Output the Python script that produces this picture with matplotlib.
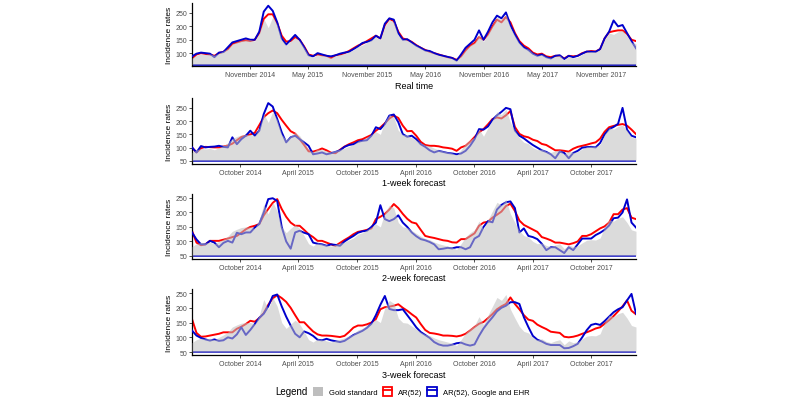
import matplotlib
matplotlib.use('Agg')
import matplotlib.pyplot as plt
import matplotlib.dates as mdates
import pandas as pd
from matplotlib.patches import Patch
from matplotlib.lines import Line2D
from matplotlib.legend_handler import HandlerTuple

plt.rcParams['font.family'] = ['Liberation Sans', 'DejaVu Sans']

# biweekly sampling of the weekly series
weeks = pd.date_range('2014-05-04', periods=100, freq='14D')

gold = [82, 92, 97, 95, 97, 92, 100, 108, 118, 135,
        142, 148, 150, 150, 145, 175, 228, 195, 235, 205,
        150, 130, 145, 158, 145, 120, 92, 84, 95, 92,
        88, 84, 90, 94, 98, 105, 112, 125, 130, 140,
        150, 160, 150, 200, 225, 215, 165, 150, 148, 138,
        128, 118, 110, 106, 98, 92, 88, 84, 80, 72,
        92, 115, 130, 140, 170, 143, 175, 205, 235, 225,
        245, 195, 165, 137, 120, 115, 100, 92, 95, 86,
        82, 88, 92, 75, 88, 82, 85, 95, 104, 106,
        105, 112, 150, 175, 170, 180, 185, 165, 140, 135]

# real time
rt_red = [80, 95, 100, 97, 95, 90, 100, 105, 115, 135,
          140, 145, 148, 145, 150, 175, 228, 245, 245, 212,
          165, 143, 145, 160, 150, 125, 95, 90, 95, 92,
          90, 82, 92, 95, 100, 108, 118, 128, 135, 145,
          155, 165, 155, 205, 228, 220, 180, 155, 150, 142,
          130, 120, 112, 105, 100, 95, 90, 85, 82, 75,
          88, 110, 128, 138, 160, 150, 170, 200, 225, 215,
          235, 215, 175, 145, 128, 118, 102, 95, 98, 88,
          85, 90, 90, 80, 90, 88, 90, 100, 105, 108,
          106, 115, 155, 178, 182, 185, 185, 172, 150, 145]
rt_blue = [88, 98, 102, 100, 98, 85, 102, 104, 122, 140,
           145, 150, 155, 150, 150, 180, 255, 277, 258, 215,
           155, 132, 150, 168, 150, 122, 92, 88, 100, 95,
           90, 88, 92, 98, 102, 105, 115, 125, 138, 142,
           148, 165, 155, 210, 230, 225, 175, 150, 152, 140,
           128, 120, 110, 108, 100, 94, 90, 86, 82, 72,
           95, 120, 135, 150, 185, 150, 180, 215, 240, 230,
           252, 205, 170, 140, 122, 112, 98, 90, 95, 85,
           80, 90, 92, 78, 90, 85, 90, 98, 106, 105,
           105, 115, 155, 180, 222, 200, 205, 175, 145, 118]

# 1-week forecast
w1_red = [101, 82, 98, 103, 102, 101, 101, 104, 108, 115,
          128, 140, 145, 150, 156, 185, 215, 230, 240, 230,
          205, 183, 162, 153, 132, 110, 86, 85, 90, 97,
          90, 81, 79, 92, 104, 113, 120, 128, 132, 140,
          148, 164, 176, 192, 210, 221, 212, 183, 162, 163,
          145, 122, 110, 107, 107, 105, 101, 99, 96, 88,
          101, 107, 122, 140, 158, 170, 188, 208, 214, 210,
          222, 238, 178, 152, 143, 139, 130, 125, 114, 110,
          100, 90, 90, 88, 85, 96, 103, 107, 111, 116,
          120, 134, 160, 177, 182, 186, 189, 183, 168, 151]
w1_blue = [101, 82, 106, 101, 103, 104, 107, 103, 101, 139,
           113, 132, 145, 164, 145, 164, 227, 268, 255, 208,
           158, 120, 139, 145, 132, 120, 107, 75, 78, 82,
           75, 79, 84, 90, 103, 110, 113, 122, 126, 128,
           145, 177, 170, 189, 221, 225, 196, 151, 141, 145,
           132, 113, 103, 90, 82, 88, 84, 80, 78, 75,
           78, 88, 107, 132, 170, 168, 180, 205, 222, 235,
           250, 245, 165, 145, 135, 122, 110, 100, 90, 84,
           75, 60, 85, 80, 60, 80, 88, 100, 102, 103,
           101, 118, 150, 170, 178, 190, 250, 168, 145, 139]

# 2-week forecast
w2_red = [137, 96, 87, 90, 102, 102, 102, 106, 110, 115,
          119, 130, 142, 150, 154, 160, 190, 212, 233, 246,
          212, 185, 165, 154, 154, 140, 125, 115, 102, 102,
          96, 90, 85, 95, 105, 114, 125, 133, 136, 140,
          145, 177, 185, 195, 210, 229, 215, 195, 178, 166,
          162, 140, 119, 115, 112, 108, 104, 102, 97, 96,
          108, 108, 118, 128, 154, 165, 168, 182, 192, 203,
          222, 230, 205, 172, 157, 149, 141, 133, 115, 110,
          104, 96, 96, 93, 90, 94, 100, 119, 119, 125,
          135, 145, 152, 165, 194, 194, 210, 215, 182, 177]
w2_blue = [131, 107, 90, 90, 102, 96, 80, 95, 102, 96,
           130, 125, 131, 131, 148, 160, 200, 246, 249, 240,
           150, 100, 75, 131, 137, 130, 125, 96, 92, 90,
           85, 90, 88, 85, 100, 110, 119, 130, 135, 137,
           150, 165, 225, 177, 170, 177, 190, 165, 150, 131,
           118, 108, 104, 98, 90, 73, 75, 78, 76, 80,
           80, 73, 80, 110, 119, 150, 170, 166, 210, 226,
           235, 238, 215, 131, 145, 119, 115, 108, 92, 70,
           80, 80, 70, 60, 80, 70, 90, 110, 110, 110,
           122, 130, 140, 155, 180, 182, 200, 245, 165, 148]

# 3-week forecast
w3_red = [162, 115, 102, 103, 106, 109, 112, 117, 117, 117,
          129, 136, 145, 156, 153, 165, 182, 210, 232, 243,
          233, 220, 200, 175, 151, 151, 135, 120, 110, 106,
          106, 105, 103, 101, 105, 118, 133, 140, 140, 144,
          150, 162, 195, 202, 204, 207, 212, 200, 190, 178,
          167, 145, 125, 115, 113, 110, 106, 106, 105, 103,
          106, 112, 123, 135, 146, 152, 165, 179, 195, 205,
          213, 235, 213, 195, 175, 160, 156, 143, 135, 128,
          119, 117, 115, 102, 100, 102, 106, 112, 117, 123,
          130, 134, 146, 158, 172, 188, 205, 225, 190, 178]
w3_blue = [123, 106, 98, 93, 89, 93, 88, 90, 100, 96,
           110, 134, 108, 125, 145, 166, 180, 205, 240, 245,
           205, 170, 140, 112, 100, 120, 114, 105, 92, 90,
           95, 90, 87, 84, 88, 98, 108, 115, 122, 132,
           146, 175, 210, 240, 196, 192, 192, 195, 175, 155,
           134, 118, 108, 98, 84, 76, 72, 72, 75, 80,
           82, 76, 72, 76, 105, 130, 150, 168, 188, 200,
           207, 219, 219, 213, 168, 135, 105, 92, 86, 78,
           74, 74, 74, 63, 64, 70, 78, 100, 124, 142,
           146, 142, 155, 170, 185, 195, 202, 225, 247, 180]

titles = ['Real time', '1-week forecast', '2-week forecast', '3-week forecast']
reds = [rt_red, w1_red, w2_red, w3_red]
blues = [rt_blue, w1_blue, w2_blue, w3_blue]
tick_months = [(5, 11), (4, 10), (4, 10), (4, 10)]
yticks = [[100, 150, 200, 250], [50, 100, 150, 200, 250],
          [50, 100, 150, 200, 250], [50, 100, 150, 200, 250]]
ylims = [(52, 287), (39, 287), (40, 264), (40, 264)]
bases = [57, 50, 50, 50]
rects = [[0.24, 0.835, 0.555, 0.155],
         [0.24, 0.594, 0.555, 0.162],
         [0.24, 0.360, 0.555, 0.160],
         [0.24, 0.123, 0.555, 0.163]]

RED = '#FF0000'
BLUE = '#0000CD'
GREY = '#BEBEBE'

fig = plt.figure(figsize=(8, 4.06), dpi=100)

for k in range(4):
    ax = fig.add_axes(rects[k])
    ax.axhline(bases[k], color=BLUE, lw=1.3, zorder=1)
    ax.plot(weeks, reds[k], color=RED, lw=1.4, zorder=2)
    ax.plot(weeks, blues[k], color=BLUE, lw=1.4, zorder=3)
    ax.fill_between(weeks, bases[k], gold, color=GREY, alpha=0.55, lw=0, zorder=4)
    ax.set_xlim(weeks[0], weeks[-1])
    ax.set_ylim(*ylims[k])
    ax.set_yticks(yticks[k])
    ax.xaxis.set_major_locator(mdates.MonthLocator(bymonth=tick_months[k]))
    ax.xaxis.set_major_formatter(mdates.DateFormatter('%B %Y'))
    for s in ['top', 'right']:
        ax.spines[s].set_visible(False)
    for s in ['left', 'bottom']:
        ax.spines[s].set_linewidth(0.9)
    ax.tick_params(labelsize=5, length=2, width=0.6, pad=1.5,
                   labelcolor='#4D4D4D', color='#333333')
    ax.set_xlabel(titles[k], fontsize=6.5, labelpad=2)
    ax.set_ylabel('Incidence rates', fontsize=6, labelpad=2)

fig.text(0.364, 0.034, 'Legend', fontsize=7, ha='center', va='center')
handles = [Patch(facecolor=GREY, edgecolor='none'),
           (Patch(facecolor='none', edgecolor=RED, lw=1.3), Line2D([], [], color=RED, lw=1.3)),
           (Patch(facecolor='none', edgecolor=BLUE, lw=1.3), Line2D([], [], color=BLUE, lw=1.3))]
labels = ['Gold standard', 'AR(52)', 'AR(52), Google and EHR']
fig.legend(handles, labels, loc='center left', bbox_to_anchor=(0.383, 0.034),
           ncol=3, frameon=False, fontsize=5.5, handlelength=1.3, handleheight=1.5,
           columnspacing=0.7, handletextpad=0.7,
           handler_map={tuple: HandlerTuple(ndivide=1, pad=0)})

fig.savefig('out.png', dpi=100)
